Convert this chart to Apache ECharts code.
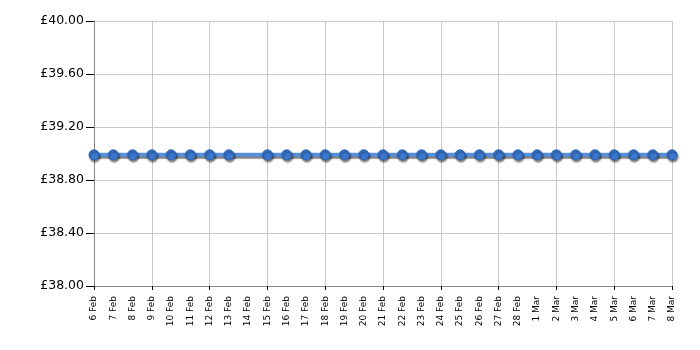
<!DOCTYPE html>
<html><head><meta charset="utf-8">
<script src="https://cdn.jsdelivr.net/npm/echarts@6/dist/echarts.min.js"></script>
<style>html,body{margin:0;padding:0;background:#fff}#c{width:700px;height:350px}</style>
</head><body><div id="c"></div>
<script>
var categories = ['6 Feb','7 Feb','8 Feb','9 Feb','10 Feb','11 Feb','12 Feb','13 Feb','14 Feb','15 Feb','16 Feb','17 Feb','18 Feb','19 Feb','20 Feb','21 Feb','22 Feb','23 Feb','24 Feb','25 Feb','26 Feb','27 Feb','28 Feb','1 Mar','2 Mar','3 Mar','4 Mar','5 Mar','6 Mar','7 Mar','8 Mar'];
var prices = [38.99,38.99,38.99,38.99,38.99,38.99,38.99,38.99,null,38.99,38.99,38.99,38.99,38.99,38.99,38.99,38.99,38.99,38.99,38.99,38.99,38.99,38.99,38.99,38.99,38.99,38.99,38.99,38.99,38.99,38.99];
var yMin = 38, yMax = 40, yStep = 0.4;
var chart = echarts.init(document.getElementById('c'));
chart.setOption({
  animation: false,
  grid: {left: 94, top: 21, right: 28, bottom: 64, show: false},
  xAxis: {
    type: 'category', data: categories, boundaryGap: false,
    axisLine: {lineStyle: {color: '#888', width: 1}},
    axisTick: {show: true, interval: 2, length: 4, lineStyle: {color: '#000'}},
    splitLine: {show: true, interval: 2, lineStyle: {color: '#c8c8c8'}},
    axisLabel: {interval: 0, rotate: 90, fontFamily: 'DejaVu Sans', fontSize: 9, color: '#000', margin: 10}
  },
  yAxis: {
    type: 'value', min: yMin, max: yMax, interval: yStep,
    axisLine: {show: true, lineStyle: {color: '#888'}},
    axisTick: {show: true, length: 8, lineStyle: {color: '#000'}},
    splitLine: {show: true, lineStyle: {color: '#c8c8c8'}},
    axisLabel: {fontFamily: 'DejaVu Sans', fontSize: 12.5, color: '#000', margin: 10,
      formatter: function(v){ return '£' + v.toFixed(2); }}
  },
  series: [{
    type: 'line', data: prices, connectNulls: true,
    symbol: 'circle', symbolSize: 10,
    lineStyle: {color: '#5a90d8', width: 4, shadowColor: 'rgba(0,0,0,0.5)', shadowOffsetY: 2, shadowBlur: 1},
    itemStyle: {color: '#3a78d0', borderColor: '#2f66b8', borderWidth: 1, shadowColor: 'rgba(0,0,0,0.55)', shadowOffsetX: 1, shadowOffsetY: 2, shadowBlur: 2}
  }]
});
</script></body></html>
